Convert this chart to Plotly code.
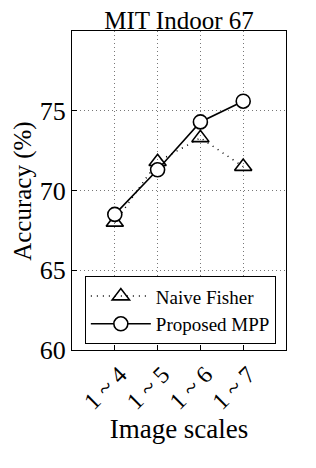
import plotly.graph_objects as go

x_pos = [1, 2, 3, 4]
x_labels = ["1 ~ 4", "1 ~ 5", "1 ~ 6", "1 ~ 7"]
naive_fisher = [68.0, 71.8, 73.3, 71.5]
proposed_mpp = [68.5, 71.3, 74.3, 75.6]
y_ticks = [60, 65, 70, 75]

FONT = "Liberation Serif"

fig = go.Figure()
fig.add_trace(go.Scatter(
    x=x_pos, y=naive_fisher, name="Naive Fisher", mode="lines+markers",
    line=dict(color="black", width=1.5, dash="1px,5px"),
    marker=dict(symbol="triangle-up-open", size=15, color="black", line=dict(width=1.6)),
))
fig.add_trace(go.Scatter(
    x=x_pos, y=proposed_mpp, name="Proposed MPP", mode="lines+markers",
    line=dict(color="black", width=1.6),
    marker=dict(symbol="circle", size=14, color="white", line=dict(width=1.6, color="black")),
))

fig.update_layout(
    width=316, height=468,
    margin=dict(l=64, r=38, t=23, b=126, autoexpand=False),
    paper_bgcolor="white", plot_bgcolor="white",
    font=dict(family=FONT, color="black", size=26),
    title=dict(text="MIT Indoor 67", x=0.5, xref="paper", xanchor="center",
               y=1, yref="paper", yanchor="bottom", pad=dict(b=2),
               font=dict(size=25, family=FONT)),
    showlegend=True,
    legend=dict(x=0.06, y=0.018, xanchor="left", yanchor="bottom",
                bordercolor="black", borderwidth=1, bgcolor="white",
                font=dict(size=19, family=FONT), tracegroupgap=0,
                itemwidth=60, entrywidth=195, entrywidthmode="pixels"),
    annotations=[dict(text="Accuracy (%)", xref="paper", yref="paper",
                      x=-0.232, y=0.5, xanchor="center", yanchor="middle",
                      textangle=-90, showarrow=False, font=dict(size=25, family=FONT))],
)
fig.update_xaxes(
    range=[0, 5], tickmode="array", tickvals=x_pos, ticktext=x_labels,
    tickangle=-45, showline=True, linecolor="black", linewidth=1, mirror=True,
    ticks="inside", ticklen=5, tickcolor="black", automargin=False,
    showgrid=True, gridcolor="#777", griddash="1px,3px", gridwidth=1,
    zeroline=False, tickfont=dict(size=24), ticklabelshift=5,
    title=dict(text="Image scales", font=dict(size=27), standoff=0),
)
fig.update_yaxes(
    range=[60, 80], tickmode="array", tickvals=y_ticks,
    showline=True, linecolor="black", linewidth=1, mirror=True,
    ticks="inside", ticklen=5, tickcolor="black", automargin=False,
    showgrid=True, gridcolor="#777", griddash="1px,3px", gridwidth=1,
    zeroline=False, tickfont=dict(size=26),
)

fig.write_html("out.html")
